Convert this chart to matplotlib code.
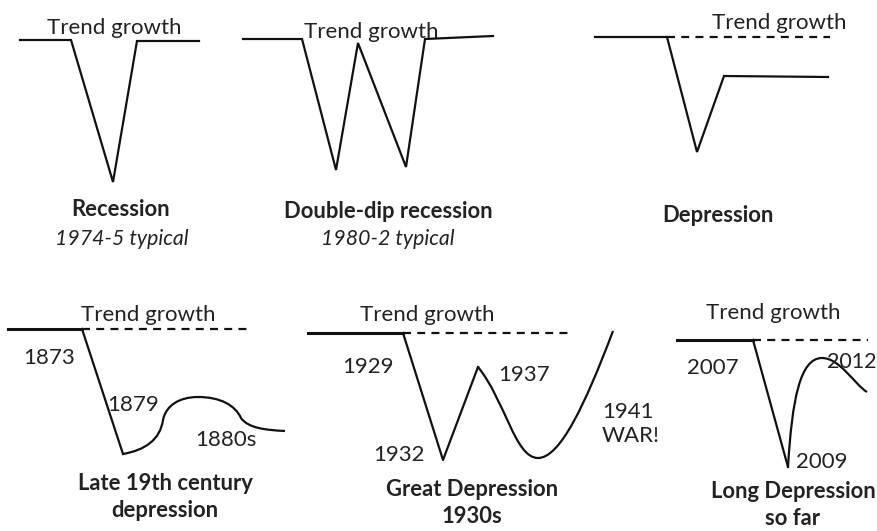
import matplotlib.pyplot as plt
from matplotlib.path import Path
from matplotlib.patches import PathPatch

plt.rcParams['font.family'] = ['Lato', 'DejaVu Sans']

# shapes, in pixel coords (y goes down)
recession = [(20, 40), (71, 40), (113, 182), (137, 41), (199, 41)]
double_dip = [(243, 39), (302, 39), (336, 170), (358, 43), (406, 167), (425, 39), (493, 36)]
depression = [(595, 37), (667, 37), (697, 152), (724, 76), (828, 77)]

# flat start, drop point, bottom (and peak) for the lower panels
late19_drop = [(8, 329), (82, 329), (123, 454)]
late19_curve = [(123, 454), (145, 450), (160, 440), (163, 420),
                (166, 405), (180, 397), (198, 397),
                (220, 397), (235, 405), (241, 418),
                (248, 428), (265, 430), (285, 431)]
great_drop = [(308, 333), (403, 333), (443, 460), (478, 367)]
great_curve = [(478, 367), (505, 400), (515, 458), (538, 458),
               (560, 458), (585, 405), (613, 331)]
long_drop = [(677, 340), (753, 340), (788, 467)]
long_curve = [(788, 467), (792, 400), (800, 358), (822, 358),
              (840, 358), (855, 385), (867, 392)]

trend_dashed = [(667, 830, 37), (82, 250, 329), (403, 573, 333), (753, 868, 340)]

trend_pos = [(114, 28), (371, 32), (779, 23), (148, 315), (427, 315), (773, 313)]
year_labels = ['1873', '1879', '1880s', '1929', '1937', '1932', '2007', '2009']
year_pos = [(49, 358), (133, 405), (226, 440), (368, 367), (524, 375), (399, 455),
            (713, 368), (822, 462)]
edge_label = '2012'
edge_pos = (877, 362)
war_label = '1941\nWAR!'
war_pos = (602, 424)
titles = ['Recession', 'Double-dip recession', 'Depression',
          'Late 19th century\ndepression', 'Great Depression\n1930s', 'Long Depression\nso far']
title_pos = [(121, 210), (388, 211), (718, 215), (165, 497), (472, 503), (793, 505)]
subtitles = ['1974-5 typical', '1980-2 typical']
subtitle_pos = [(122, 239), (388, 239)]

fig = plt.figure(figsize=(8.78, 5.31), dpi=100)
ax = fig.add_axes([0, 0, 1, 1])
ax.set_xlim(0, 878)
ax.set_ylim(531, 0)
ax.axis('off')

lw = 1.6
col = '#111111'
for pts in [recession, double_dip, depression]:
    ax.plot([p[0] for p in pts], [p[1] for p in pts], color=col, lw=lw, solid_joinstyle='miter')

for pts in [late19_drop, great_drop, long_drop]:
    ax.plot([p[0] for p in pts[:2]], [p[1] for p in pts[:2]], color=col, lw=2.2)
    ax.plot([p[0] for p in pts[1:]], [p[1] for p in pts[1:]], color=col, lw=lw)

for pts in [late19_curve, great_curve, long_curve]:
    codes = [Path.MOVETO] + [Path.CURVE4] * (len(pts) - 1)
    ax.add_patch(PathPatch(Path(pts, codes), fill=False, ec=col, lw=lw))

for x0, x1, y in trend_dashed:
    ax.plot([x0, x1], [y, y], color=col, lw=lw, ls=(0, (3.6, 2.8)))

tc = '#222222'
for x, y in trend_pos:
    ax.text(x, y, 'Trend growth', fontsize=16, color=tc, ha='center', va='center')
for s, (x, y) in zip(year_labels, year_pos):
    ax.text(x, y, s, fontsize=16, color=tc, ha='center', va='center')
ax.text(edge_pos[0], edge_pos[1], edge_label, fontsize=15.5, color=tc, ha='right', va='center')
ax.text(war_pos[0], war_pos[1], war_label, fontsize=16, color=tc, ha='left', va='center', linespacing=1.2)
for s, (x, y) in zip(titles, title_pos):
    ax.text(x, y, s, fontsize=15.8, color=tc, ha='center', va='center', fontweight='bold', linespacing=1.35)
for s, (x, y) in zip(subtitles, subtitle_pos):
    ax.text(x, y, s, fontsize=15.3, color=tc, ha='center', va='center', style='italic')

plt.savefig('out.png', dpi=100)
